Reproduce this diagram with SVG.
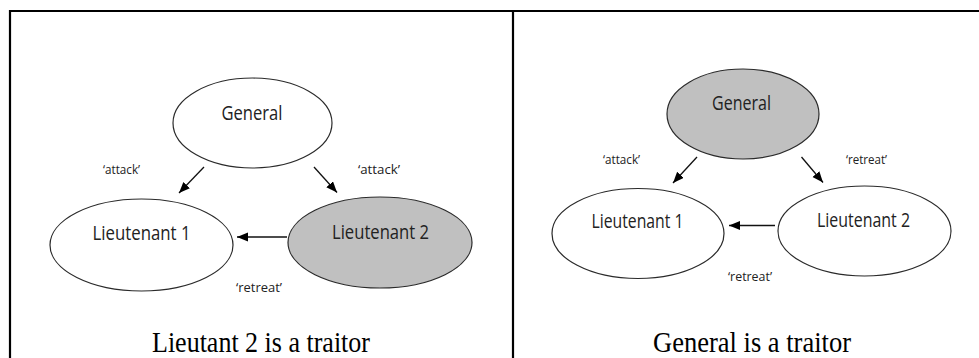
<svg xmlns="http://www.w3.org/2000/svg" width="979" height="358" viewBox="0 0 979 358">
<style>
.node{stroke:#2a2a2a;stroke-width:1.2}
.white{fill:#ffffff}
.grey{fill:#c0c0c0}
.nl{font-family:"Open Sans","Liberation Sans",sans-serif;font-size:20px;fill:#222;text-anchor:middle}
.el{font-family:"Open Sans","Liberation Sans",sans-serif;font-size:12.5px;fill:#222}
.cap{font-family:"Liberation Serif","Times New Roman",serif;font-size:29px;fill:#000;text-anchor:middle}
.conn line{stroke:#111;stroke-width:1.3;marker-end:url(#ah)}
.frame{stroke:#000;stroke-width:2.2;fill:none}
</style>
<defs>
<marker id="ah" markerUnits="userSpaceOnUse" markerWidth="12" markerHeight="10" refX="11" refY="4.5" orient="auto">
<path d="M0,0 L11,4.5 L0,9 z" fill="#000"/>
</marker>
</defs>
<rect x="0" y="0" width="979" height="358" fill="#fff"/>
<g id="frame">
<path class="frame" d="M10,358 V11 H979"/>
<line class="frame" x1="513" y1="11" x2="513" y2="358"/>
</g>
<!-- Left panel -->
<g id="l-general"><ellipse class="node white" cx="252.5" cy="123" rx="79.5" ry="45"/><text class="nl" x="252" y="120" textLength="61" lengthAdjust="spacingAndGlyphs">General</text></g>
<g id="l-lt1"><ellipse class="node white" cx="141.5" cy="245" rx="91.5" ry="46"/><text class="nl" x="141.5" y="240" textLength="98" lengthAdjust="spacingAndGlyphs">Lieutenant 1</text></g>
<g id="l-lt2"><ellipse class="node grey" cx="380" cy="242.5" rx="92" ry="45.5"/><text class="nl" x="380.5" y="239" textLength="97" lengthAdjust="spacingAndGlyphs">Lieutenant 2</text></g>
<!-- Right panel -->
<g id="r-general"><ellipse class="node grey" cx="743" cy="114" rx="76" ry="45"/><text class="nl" x="741.5" y="110" textLength="59" lengthAdjust="spacingAndGlyphs">General</text></g>
<g id="r-lt1"><ellipse class="node white" cx="638" cy="233.5" rx="86" ry="45"/><text class="nl" x="637.5" y="228" textLength="92" lengthAdjust="spacingAndGlyphs">Lieutenant 1</text></g>
<g id="r-lt2"><ellipse class="node white" cx="864.5" cy="231" rx="86.5" ry="45"/><text class="nl" x="863.5" y="227" textLength="93" lengthAdjust="spacingAndGlyphs">Lieutenant 2</text></g>
<g id="connectors" class="conn">
<line x1="204" y1="167" x2="179" y2="193"/>
<line x1="314" y1="167" x2="337" y2="192.5"/>
<line x1="287" y1="237" x2="237" y2="237"/>
<line x1="697" y1="157" x2="673" y2="183"/>
<line x1="801.5" y1="157" x2="823" y2="182.5"/>
<line x1="775" y1="225.5" x2="729" y2="225.5"/>
</g>
<g id="edge-labels">
<text class="el" x="103" y="174" textLength="37" lengthAdjust="spacingAndGlyphs">‘attack’</text>
<text class="el" x="358" y="174" textLength="42" lengthAdjust="spacingAndGlyphs">‘attack’</text>
<text class="el" x="236" y="292" textLength="46" lengthAdjust="spacingAndGlyphs">‘retreat’</text>
<text class="el" x="603" y="164" textLength="37" lengthAdjust="spacingAndGlyphs">‘attack’</text>
<text class="el" x="846" y="164" textLength="41" lengthAdjust="spacingAndGlyphs">‘retreat’</text>
<text class="el" x="728" y="281" textLength="44" lengthAdjust="spacingAndGlyphs">‘retreat’</text>
</g>
<g id="captions">
<text class="cap" x="261" y="352" textLength="218" lengthAdjust="spacingAndGlyphs">Lieutant 2 is a traitor</text>
<text class="cap" x="752" y="352" textLength="198" lengthAdjust="spacingAndGlyphs">General is a traitor</text>
</g>
</svg>
